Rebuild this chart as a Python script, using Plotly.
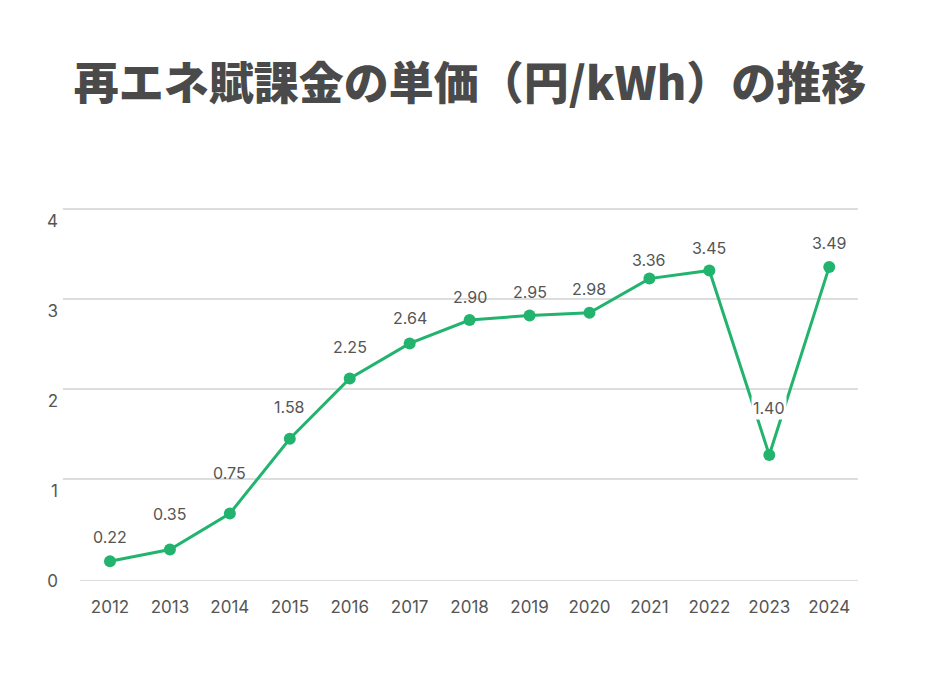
import plotly.graph_objects as go

years = ["2012", "2013", "2014", "2015", "2016", "2017", "2018",
         "2019", "2020", "2021", "2022", "2023", "2024"]
rates = [0.22, 0.35, 0.75, 1.58, 2.25, 2.64, 2.90, 2.95, 2.98, 3.36, 3.45, 1.40, 3.49]
y_ticks = [0, 1, 2, 3, 4]
title_text = "再エネ賦課金の単価（円/kWh）の推移"

# label placement (pixels above each point), as in the original layout
label_lift_px = [24, 36, 41, 32, 32, 25, 23, 24, 24, 19, 23, 47, 24]

GREEN = "#22b46f"
TEXT = "#555555"
FONT = "Inter, 'Noto Sans CJK JP', sans-serif"

W, H = 939, 688
OFF = 8  # page body margin
ML, MR, MT, MB = 63 - OFF, 89, 190 - OFF, 115
plot_h = H - MT - MB
px_per_unit = 90.0
y_top = plot_h / px_per_unit
grid_shift = 0.13

fig = go.Figure()
fig.add_trace(go.Scatter(
    x=years, y=rates, mode="lines+markers",
    line=dict(color=GREEN, width=3),
    marker=dict(color=GREEN, size=12),
    hoverinfo="skip", showlegend=False, cliponaxis=False,
))
# invisible trace to activate gridline axis
fig.add_trace(go.Scatter(x=[years[0]], y=[0], yaxis="y2", mode="markers",
                         marker=dict(opacity=0), showlegend=False, hoverinfo="skip"))

annotations = []
for i, v in enumerate(rates):
    lift = label_lift_px[i]
    annotations.append(dict(
        xref="x", yref="y", x=i, y=v, text=f"{v:.2f}", showarrow=False,
        yshift=lift,
        font=dict(family=FONT, size=16, color=TEXT),
        bgcolor="white" if lift > 45 else "rgba(0,0,0,0)", borderpad=1,
    ))

fig.add_shape(type="line", xref="paper", yref="y", x0=17 / (W - ML - MR), x1=1, y0=0, y1=0,
              line=dict(color="#dddddd", width=2), layer="below")

fig.update_layout(
    width=W, height=H,
    margin=dict(l=ML, r=MR, t=MT, b=MB),
    paper_bgcolor="white", plot_bgcolor="white",
    annotations=annotations,
    title=dict(text=title_text, x=(470 - OFF) / W, xanchor="center", y=1 - (84 - OFF) / H, yanchor="middle",
               font=dict(family="'Noto Sans CJK JP', sans-serif", size=45, color="#4a4a4a", weight=900)),
    xaxis=dict(type="category", range=[-0.784, 12.48], showgrid=False, zeroline=False,
               showline=False, ticks="", ticklabelstandoff=14,
               tickfont=dict(family=FONT, size=17, color=TEXT)),
    yaxis=dict(range=[0, y_top], tickvals=y_ticks, ticktext=[str(t) for t in y_ticks],
               showgrid=False, zeroline=False, showline=False, ticks="", ticklabelstandoff=4,
               tickfont=dict(family=FONT, size=17, color=TEXT)),
    yaxis2=dict(overlaying="y", range=[-grid_shift, y_top - grid_shift],
                tickvals=y_ticks[1:], showticklabels=False, showgrid=True,
                gridcolor="#dddddd", gridwidth=2, zeroline=False, showline=False),
)

fig.write_html("out.html")
